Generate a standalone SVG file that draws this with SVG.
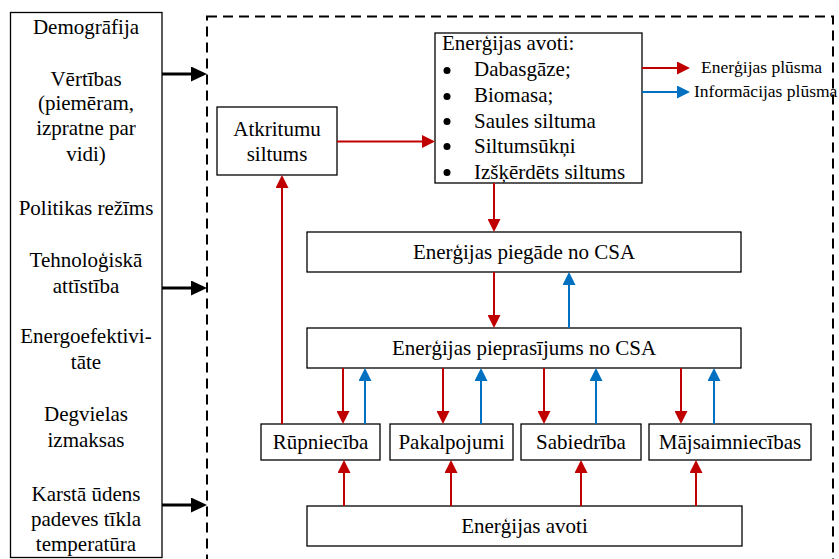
<svg xmlns="http://www.w3.org/2000/svg" width="839" height="559" viewBox="0 0 839 559">
  <style>
    .box { fill: #fff; stroke: #000; stroke-width: 1.3; }
    .t { font-family: "Liberation Serif", "Times New Roman", serif; font-size: 21px; fill: #000; }
    .c { text-anchor: middle; }
    .lg { font-size: 17.5px; }
    .red { stroke: #C00000; stroke-width: 2; fill: none; }
    .blue { stroke: #0070C0; stroke-width: 2; fill: none; }
    .blk { stroke: #000; stroke-width: 3; fill: none; }
  </style>
  <defs>
    <marker id="hRed" markerUnits="userSpaceOnUse" markerWidth="13" markerHeight="13" refX="0" refY="6.5" orient="auto">
      <path d="M0,0 L13,6.5 L0,13 z" fill="#C00000"/>
    </marker>
    <marker id="hBlue" markerUnits="userSpaceOnUse" markerWidth="13" markerHeight="13" refX="0" refY="6.5" orient="auto">
      <path d="M0,0 L13,6.5 L0,13 z" fill="#0070C0"/>
    </marker>
    <marker id="hBlk" markerUnits="userSpaceOnUse" markerWidth="16" markerHeight="15" refX="0" refY="7.5" orient="auto">
      <path d="M0,0 L16,7.5 L0,15 z" fill="#000"/>
    </marker>
  </defs>

  <rect width="839" height="559" fill="#fff"/>

  <!-- system boundary -->
  <rect id="boundary" x="207" y="16.5" width="626" height="560" fill="none" stroke="#000" stroke-width="2" stroke-dasharray="10,6"/>

  <!-- external factors -->
  <g id="factors">
    <rect class="box" x="10.5" y="12.5" width="151.5" height="545"/>
    <text class="t c" x="86" y="34">Demogrāfija</text>
    <text class="t c" x="86" y="86">Vērtības</text>
    <text class="t c" x="86" y="110">(piemēram,</text>
    <text class="t c" x="86" y="135">izpratne par</text>
    <text class="t c" x="86" y="161">vidi)</text>
    <text class="t c" x="86" y="215">Politikas režīms</text>
    <text class="t c" x="86" y="267">Tehnoloģiskā</text>
    <text class="t c" x="86" y="293">attīstība</text>
    <text class="t c" x="86" y="343">Energoefektivi-</text>
    <text class="t c" x="86" y="369">tāte</text>
    <text class="t c" x="86" y="421">Degvielas</text>
    <text class="t c" x="86" y="447">izmaksas</text>
    <text class="t c" x="86" y="501">Karstā ūdens</text>
    <text class="t c" x="86" y="526">padeves tīkla</text>
    <text class="t c" x="86" y="551">temperatūra</text>
  </g>

  <g id="sources">
    <rect class="box" x="435" y="33" width="207" height="150"/>
    <text class="t" x="442" y="50">Enerģijas avoti:</text>
    <g fill="#000">
      <circle cx="447" cy="70.5" r="3.5"/>
      <circle cx="447" cy="96.5" r="3.5"/>
      <circle cx="447" cy="121.5" r="3.5"/>
      <circle cx="447" cy="146.5" r="3.5"/>
      <circle cx="447" cy="172.5" r="3.5"/>
    </g>
    <text class="t" x="474" y="76">Dabasgāze;</text>
    <text class="t" x="474" y="101.5">Biomasa;</text>
    <text class="t" x="474" y="127.5">Saules siltuma</text>
    <text class="t" x="474" y="152.5">Siltumsūkņi</text>
    <text class="t" x="474" y="178.5">Izšķērdēts siltums</text>
  </g>

  <g id="waste-heat">
    <rect class="box" x="217" y="107" width="120" height="68"/>
    <text class="t c" x="277" y="136">Atkritumu</text>
    <text class="t c" x="277" y="161">siltums</text>
  </g>

  <g id="supply">
    <rect class="box" x="307" y="232" width="434" height="40"/>
    <text class="t c" x="524" y="259">Enerģijas piegāde no CSA</text>
  </g>

  <g id="demand">
    <rect class="box" x="307" y="328" width="434" height="40"/>
    <text class="t c" x="524" y="355">Enerģijas pieprasījums no CSA</text>
  </g>

  <g id="industry">
    <rect class="box" x="261" y="424" width="119" height="36"/>
    <text class="t c" x="320.5" y="449">Rūpniecība</text>
  </g>
  <g id="services">
    <rect class="box" x="390" y="424" width="123" height="36"/>
    <text class="t c" x="451.5" y="449">Pakalpojumi</text>
  </g>
  <g id="public">
    <rect class="box" x="521" y="424" width="120" height="36"/>
    <text class="t c" x="581" y="449">Sabiedrība</text>
  </g>
  <g id="households">
    <rect class="box" x="649" y="424" width="162" height="36"/>
    <text class="t c" x="730" y="449">Mājsaimniecības</text>
  </g>

  <g id="primary-sources">
    <rect class="box" x="307" y="506" width="435" height="40"/>
    <text class="t c" x="524.5" y="533">Enerģijas avoti</text>
  </g>

  <g id="legend">
    <text class="t lg" x="701" y="73">Enerģijas plūsma</text>
    <text class="t lg" x="694" y="97">Informācijas plūsma</text>
  </g>

  <g id="connectors">
    <!-- external influences -->
    <line class="blk" x1="162" y1="74" x2="191" y2="74" marker-end="url(#hBlk)"/>
    <line class="blk" x1="162" y1="288" x2="191" y2="288" marker-end="url(#hBlk)"/>
    <line class="blk" x1="162" y1="505" x2="191" y2="505" marker-end="url(#hBlk)"/>

    <!-- energy flows -->
    <line class="red" x1="337" y1="141.5" x2="422" y2="141.5" marker-end="url(#hRed)"/>
    <line class="red" x1="494" y1="183" x2="494" y2="219" marker-end="url(#hRed)"/>
    <line class="red" x1="494" y1="272" x2="494" y2="315" marker-end="url(#hRed)"/>
    <line class="red" x1="282" y1="424" x2="282" y2="188" marker-end="url(#hRed)"/>

    <line class="red" x1="343" y1="368" x2="343" y2="411" marker-end="url(#hRed)"/>
    <line class="red" x1="443" y1="368" x2="443" y2="411" marker-end="url(#hRed)"/>
    <line class="red" x1="544" y1="368" x2="544" y2="411" marker-end="url(#hRed)"/>
    <line class="red" x1="681" y1="368" x2="681" y2="411" marker-end="url(#hRed)"/>

    <line class="red" x1="344" y1="506" x2="344" y2="473" marker-end="url(#hRed)"/>
    <line class="red" x1="451" y1="506" x2="451" y2="473" marker-end="url(#hRed)"/>
    <line class="red" x1="581" y1="506" x2="581" y2="473" marker-end="url(#hRed)"/>
    <line class="red" x1="696" y1="506" x2="696" y2="473" marker-end="url(#hRed)"/>

    <!-- information flows -->
    <line class="blue" x1="569" y1="328" x2="569" y2="285" marker-end="url(#hBlue)"/>
    <line class="blue" x1="365" y1="424" x2="365" y2="381" marker-end="url(#hBlue)"/>
    <line class="blue" x1="481" y1="424" x2="481" y2="381" marker-end="url(#hBlue)"/>
    <line class="blue" x1="596" y1="424" x2="596" y2="381" marker-end="url(#hBlue)"/>
    <line class="blue" x1="714" y1="424" x2="714" y2="381" marker-end="url(#hBlue)"/>

    <!-- legend keys -->
    <line class="red" x1="642" y1="68" x2="677" y2="68" marker-end="url(#hRed)"/>
    <line class="blue" x1="642" y1="92" x2="677" y2="92" marker-end="url(#hBlue)"/>
  </g>
</svg>
